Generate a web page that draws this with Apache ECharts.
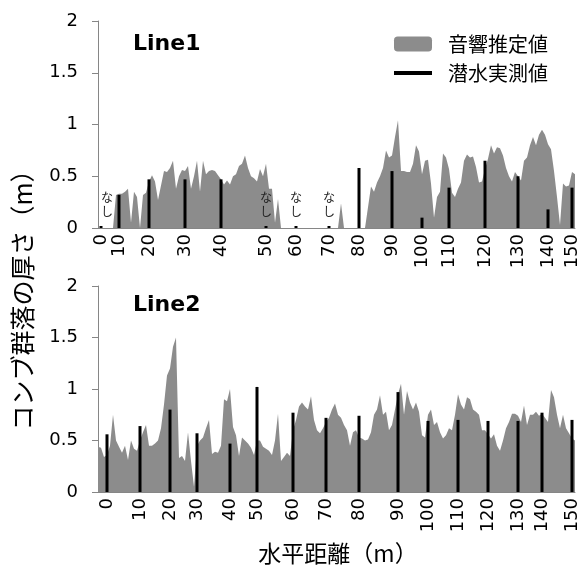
<!DOCTYPE html>
<html>
<head>
<meta charset="utf-8">
<script src="https://cdn.jsdelivr.net/npm/echarts@6/dist/echarts.min.js"></script>
<style>
html,body{margin:0;padding:0;background:#fff;}
#main{width:584px;height:575px;}
</style>
</head>
<body>
<div id="main"></div>
<script>
// Line1 音響推定値 (サンプル毎)
var line1Acoustic = [
  0, 0, 0, 0, 0, 0, 0.32, 0.33, 0.33, 0.35,
  0.38, 0.05, 0.35, 0.30, 0, 0.32, 0.34, 0.45, 0.51, 0.45,
  0.27, 0.41, 0.55, 0.54, 0.58, 0.65, 0.38, 0.50, 0.56, 0.55,
  0.60, 0.38, 0.50, 0.65, 0.35, 0.65, 0.52, 0.55, 0.56, 0.55,
  0.51, 0.47, 0.42, 0.46, 0.42, 0.50, 0.52, 0.60, 0.62, 0.70,
  0.58, 0.50, 0.48, 0.45, 0.57, 0.50, 0.62, 0.38, 0.38, 0.05,
  0.28, 0, 0, 0, 0, 0, 0, 0, 0, 0,
  0, 0, 0, 0, 0, 0, 0, 0, 0, 0,
  0, 0.24, 0, 0, 0, 0, 0, 0, 0, 0,
  0.20, 0.40, 0.35, 0.44, 0.50, 0.58, 0.75, 0.68, 0.70, 0.88,
  1.04, 0.55, 0.55, 0.54, 0.54, 0.62, 0.80, 0.74, 0.52, 0.65,
  0.66, 0.43, 0.10, 0.30, 0.35, 0.72, 0.68, 0.57, 0.34, 0.30,
  0.38, 0.44, 0.65, 0.71, 0.68, 0.69, 0.59, 0.44, 0.45, 0.57,
  0.67, 0.80, 0.72, 0.78, 0.77, 0.70, 0.58, 0.50, 0.45, 0.54,
  0.50, 0.46, 0.65, 0.68, 0.80, 0.88, 0.80, 0.90, 0.95, 0.90,
  0.81, 0.76, 0.55, 0.30, 0.03, 0.43, 0.40, 0.41, 0.54, 0.52
];
// Line1 潜水実測値
var line1DiveIdx = [1, 7, 17, 29, 41, 56, 66, 77, 87, 98, 108, 117, 129, 140, 150, 158];
var line1DiveLabel = ['0', '10', '20', '30', '40', '50', '60', '70', '80', '90', '100', '110', '120', '130', '140', '150'];
var line1Dive = [0, 0.32, 0.47, 0.47, 0.47, 0, 0, 0, 0.58, 0.55, 0.10, 0.39, 0.65, 0.50, 0.18, 0.39];
var line1NoData = ['0', '50', '60', '70'];

// Line2 音響推定値
var line2Acoustic = [
  0.44, 0.43, 0.34, 0.36, 0.45, 0.75, 0.50, 0.44, 0.38, 0.45,
  0.31, 0.50, 0.42, 0.40, 0.50, 0.58, 0.65, 0.45, 0.45, 0.47,
  0.50, 0.62, 0.85, 1.13, 1.20, 1.41, 1.50, 0.33, 0.35, 0.30,
  0.58, 0.30, 0.05, 0.45, 0.50, 0.53, 0.62, 0.70, 0.37, 0.39,
  0.38, 0.45, 0.90, 0.88, 1.00, 0.63, 0.55, 0.35, 0.53, 0.50,
  0.47, 0.43, 0.36, 0.50, 0.50, 0.44, 0.42, 0.40, 0.36, 0.50,
  0.76, 0.30, 0.34, 0.38, 0.35, 0.60, 0.70, 0.83, 0.87, 0.83,
  0.80, 0.93, 0.70, 0.60, 0.57, 0.62, 0.68, 0.72, 0.80, 0.86,
  0.75, 0.72, 0.65, 0.60, 0.45, 0.58, 0.60, 0.53, 0.52, 0.50,
  0.51, 0.58, 0.75, 0.80, 0.94, 0.75, 0.78, 0.60, 0.65, 0.80,
  0.95, 1.05, 0.75, 0.98, 0.87, 0.80, 0.87, 0.78, 0.55, 0.53,
  0.75, 0.80, 0.65, 0.68, 0.58, 0.52, 0.55, 0.62, 0.60, 0.75,
  0.95, 0.85, 0.80, 0.92, 0.90, 0.80, 0.78, 0.75, 0.60, 0.60,
  0.56, 0.52, 0.56, 0.45, 0.40, 0.50, 0.62, 0.68, 0.76, 0.76,
  0.74, 0.68, 0.84, 0.65, 0.75, 0.75, 0.78, 0.74, 0.76, 0.72,
  0.68, 0.99, 0.92, 0.75, 0.62, 0.75, 0.62, 0.57, 0.52, 0.50
];
// Line2 潜水実測値
var line2DiveIdx = [3, 14, 24, 33, 44, 53, 65, 76, 87, 100, 110, 120, 130, 140, 148, 158];
var line2DiveLabel = ['0', '10', '20', '30', '40', '50', '60', '70', '80', '90', '100', '110', '120', '130', '140', '150'];
var line2Dive = [0.56, 0.64, 0.80, 0.57, 0.47, 1.02, 0.77, 0.72, 0.74, 0.97, 0.69, 0.70, 0.69, 0.69, 0.77, 0.70];
var line2NoData = [];

var numFont = 'DejaVu Sans';
var jpFont = '"Noto Sans CJK JP"';
var axisGray = '#868686';
var areaGray = '#8c8c8c';

function $each(arr, fn) { for (var i = 0; i < arr.length; i++) fn(arr[i], i); }

function buildCats(n) {
    var c = [];
    for (var i = 0; i < n; i++) c.push('s' + i);
    return c;
}
function buildLabelMap(idx, labels) {
    var m = {};
    $each(idx, function (k, j) { m[k] = labels[j]; });
    return m;
}

//潜水実測値の棒（なし は 0 + ラベル）
function buildBars(n, idx, vals, labels, noData) {
    var d = [];
    for (var i = 0; i < n; i++) d.push('-');
    $each(idx, function (k, j) {
        if (noData.indexOf(labels[j]) >= 0) {
            d[k] = { value: vals[j], label: { show: true, offset: [j == 0 ? 6 : 0, 0] } };
        } else {
            d[k] = vals[j];
        }
    });
    return d;
}

var map1 = buildLabelMap(line1DiveIdx, line1DiveLabel);
var map2 = buildLabelMap(line2DiveIdx, line2DiveLabel);

function xAxisOf(grid, n, labelMap) {
    return {
        type: 'category',
        gridIndex: grid,
        data: buildCats(n),
        boundaryGap: false,
        axisLine: { lineStyle: { color: axisGray, width: 1 } },
        axisTick: { show: false },
        splitLine: { show: false },
        axisLabel: {
            interval: 0,
            rotate: 90,
            margin: 6,
            fontSize: 18,
            fontFamily: numFont,
            color: '#000',
            formatter: function (v, i) { return labelMap[i] || ''; }
        }
    };
}
function yAxisOf(grid) {
    return {
        type: 'value',
        gridIndex: grid,
        min: 0,
        max: 2,
        interval: 0.5,
        axisLine: { show: true, lineStyle: { color: axisGray, width: 1 } },
        axisTick: { show: true, length: 6, lineStyle: { color: axisGray } },
        splitLine: { show: false },
        axisLabel: { fontSize: 18, fontFamily: numFont, color: '#000', margin: 20 }
    };
}
function areaSeries(grid, data) {
    return {
        name: '音響推定値',
        type: 'line',
        xAxisIndex: grid,
        yAxisIndex: grid,
        data: data,
        color: areaGray,
        showSymbol: false,
        symbol: 'none',
        lineStyle: { width: 0 },
        areaStyle: { color: areaGray, opacity: 1 },
        z: 2
    };
}
function barSeries(grid, data) {
    return {
        name: '潜水実測値',
        type: 'bar',
        xAxisIndex: grid,
        yAxisIndex: grid,
        data: data,
        barWidth: 3,
        barMinHeight: 2,
        itemStyle: { color: '#000' },
        label: {
            show: false,
            position: 'top',
            distance: 8,
            formatter: 'な\nし',
            fontSize: 12,
            lineHeight: 14,
            fontFamily: jpFont,
            color: '#222'
        },
        z: 3
    };
}

var n1 = line1Acoustic.length;
var n2 = line2Acoustic.length;

var myChart = echarts.init(document.getElementById('main'));
var option = {
    animation: false,
    backgroundColor: '#fff',
    title: [
        { text: 'Line1', left: 133, top: 33, padding: 0, textStyle: { fontSize: 22, fontWeight: 'bold', fontFamily: numFont, color: '#000' } },
        { text: 'Line2', left: 133, top: 294, padding: 0, textStyle: { fontSize: 22, fontWeight: 'bold', fontFamily: numFont, color: '#000' } }
    ],
    legend: [
        {
            data: ['音響推定値'], left: 394, top: 34, padding: 0, selectedMode: false,
            icon: 'roundRect', itemWidth: 38, itemHeight: 15,
            textStyle: { fontSize: 20, fontFamily: jpFont, color: '#000', padding: [0, 0, 0, 11] }
        },
        {
            data: ['潜水実測値'], left: 394, top: 63, padding: 0, selectedMode: false,
            icon: 'rect', itemWidth: 38, itemHeight: 4,
            textStyle: { fontSize: 20, fontFamily: jpFont, color: '#000', padding: [0, 0, 0, 11] }
        }
    ],
    grid: [
        { left: 98, top: 21, width: 477, height: 207 },
        { left: 98, top: 286, width: 477, height: 206 }
    ],
    xAxis: [xAxisOf(0, n1, map1), xAxisOf(1, n2, map2)],
    yAxis: [yAxisOf(0), yAxisOf(1)],
    series: [
        areaSeries(0, line1Acoustic),
        barSeries(0, buildBars(n1, line1DiveIdx, line1Dive, line1DiveLabel, line1NoData)),
        areaSeries(1, line2Acoustic),
        barSeries(1, buildBars(n2, line2DiveIdx, line2Dive, line2DiveLabel, line2NoData))
    ],
    graphic: [
        {
            type: 'text', x: 22, y: 294, rotation: Math.PI / 2,
            style: { text: 'コンブ群落の厚さ（m）', fontSize: 25, fontFamily: jpFont, fill: '#000', align: 'center', verticalAlign: 'middle' }
        },
        {
            type: 'text', x: 338, y: 553,
            style: { text: '水平距離（m）', fontSize: 23, fontFamily: jpFont, fill: '#000', align: 'center', verticalAlign: 'middle' }
        }
    ]
};
myChart.setOption(option);
</script>
</body>
</html>
